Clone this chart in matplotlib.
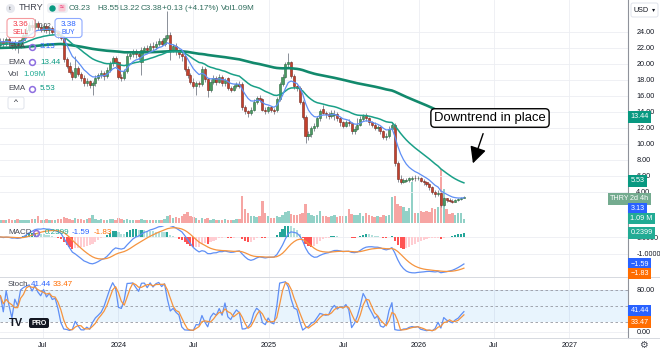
import numpy as np
import pandas as pd
import matplotlib
matplotlib.use('Agg')
import matplotlib.pyplot as plt
import matplotlib.dates as mdates
from matplotlib.patches import FancyBboxPatch

plt.rcParams['font.family'] = ['Liberation Sans', 'DejaVu Sans']

# ---------------- data (weekly THRY) ----------------
opens = [22.4,22.9,22.5,23.1,22.7,22.3,22.8,22.4,23.0,23.6,
         24.2,24.9,24.6,25.1,24.6,24.3,24.8,24.2,24.5,24.0,
         24.1,23.6,23.3,20.6,19.8,19.0,18.4,19.5,18.8,18.2,
         17.6,17.9,17.4,17.6,18.3,18.6,18.9,18.5,19.3,20.1,
         20.7,20.2,18.4,18.3,19.1,21.0,21.2,21.6,21.3,20.2,
         21.8,22.0,21.7,22.3,22.1,22.5,22.9,22.5,23.2,23.6,
         21.8,22.3,21.6,21.2,21.0,19.4,18.6,17.8,17.3,17.6,
         17.5,19.4,18.1,16.7,17.8,18.3,17.8,18.4,17.6,18.2,
         17.0,16.8,17.2,17.5,17.5,14.6,14.1,13.9,14.3,15.3,
         15.8,15.6,14.3,14.1,14.6,14.2,14.2,15.6,17.5,18.4,
         20.0,20.2,18.5,17.2,17.0,15.3,13.4,11.0,11.3,12.0,
         12.3,13.2,14.4,13.9,13.7,13.5,13.6,13.8,13.2,12.7,
         12.3,12.8,12.6,11.6,11.9,12.4,13.1,13.6,13.2,12.7,
         12.4,12.0,12.1,11.6,10.9,11.0,11.9,12.4,7.6,5.6,
         5.3,5.4,5.5,5.6,5.8,5.7,5.8,5.4,5.2,5.0,
         4.6,4.0,3.7,3.9,2.4,3.2,3.0,2.9,2.8,3.0,
         3.1,3.23]
closes = [22.9,22.5,23.1,22.7,22.3,22.8,22.4,23.0,23.6,24.2,
          24.9,24.6,25.1,24.6,24.3,24.8,24.2,24.5,24.0,24.1,
          23.6,23.3,20.6,19.8,19.0,18.4,19.5,18.8,18.2,17.6,
          17.9,17.4,17.6,18.3,18.6,18.9,18.5,19.3,20.1,20.7,
          20.2,18.4,18.3,19.1,21.0,21.2,21.6,21.3,21.0,21.8,
          22.0,21.7,22.3,22.1,22.5,22.9,22.5,23.2,23.6,21.8,
          22.2,21.6,21.2,21.0,19.4,18.6,17.8,17.3,17.6,17.5,
          19.4,18.1,16.7,17.8,18.3,17.8,18.4,17.6,18.0,17.0,
          16.8,17.2,17.5,17.3,14.6,14.1,13.9,14.3,15.3,15.8,
          15.5,14.3,14.1,14.6,14.2,14.1,15.6,17.5,18.4,20.0,
          20.3,18.5,17.2,17.0,15.3,13.4,11.0,11.3,12.0,12.3,
          13.2,14.1,13.9,13.7,13.5,13.9,13.8,13.2,12.7,12.3,
          12.8,12.6,11.6,11.9,12.4,13.1,13.5,13.2,12.7,12.4,
          12.0,12.1,11.6,10.9,11.0,11.9,12.4,7.6,5.6,5.3,
          5.5,5.5,5.7,5.8,5.7,5.8,5.4,5.2,5.0,4.6,
          4.0,3.7,3.9,2.4,3.2,3.0,2.9,2.8,3.0,3.1,
          3.25,3.38]
highs = [23.3,23.2,23.4,23.4,22.9,23.0,23.0,23.3,24.0,24.6,
         25.3,25.5,25.6,25.4,25.0,25.1,24.9,24.8,24.7,24.4,
         24.3,23.9,23.5,20.9,20.2,19.3,21.0,19.7,19.0,18.6,
         18.3,18.0,17.9,18.6,18.9,19.2,19.1,19.6,20.4,21.0,
         21.0,20.4,18.8,19.4,21.4,21.6,21.9,21.9,21.6,22.1,
         22.3,22.4,22.6,22.8,22.9,23.2,23.1,23.6,26.6,24.0,
         22.5,22.6,21.9,21.5,21.2,19.7,18.9,18.2,17.9,17.9,
         19.7,19.6,18.3,18.1,18.6,18.5,18.7,18.6,18.3,18.4,
         17.3,17.5,17.8,17.9,17.7,14.9,14.3,14.6,15.6,16.0,
         16.1,15.8,14.6,14.8,14.8,14.5,15.9,17.8,18.7,20.3,
         21.4,20.4,18.7,17.4,17.2,15.5,13.6,11.6,12.3,12.6,
         13.5,14.4,14.9,14.1,14.0,14.2,14.3,14.0,13.4,12.9,
         13.0,13.1,12.8,12.2,13.3,13.5,13.8,13.9,13.4,12.9,
         12.7,12.4,12.3,11.8,11.4,12.2,12.7,12.6,7.9,6.1,
         5.8,5.8,5.9,6.0,6.1,6.0,5.9,5.6,5.4,5.1,
         4.8,4.2,4.2,4.0,3.4,3.3,3.2,3.1,3.1,3.3,
         3.4,3.55]
lows = [22.0,22.1,22.2,22.3,21.9,21.8,21.4,22.0,22.8,23.4,
        24.0,24.3,24.4,24.2,24.0,24.0,23.9,23.8,23.7,23.5,
        23.3,23.0,20.3,19.5,18.8,18.0,18.2,18.5,17.9,17.3,
        17.2,17.0,16.1,17.3,18.0,18.2,18.0,18.3,19.0,19.8,
        19.6,18.1,17.9,18.0,18.9,20.6,20.9,20.8,20.5,18.6,
        21.5,21.4,21.5,21.8,21.9,22.2,22.2,22.3,23.0,20.5,
        21.5,21.1,20.8,20.4,19.1,18.3,17.5,17.0,16.1,17.1,
        17.3,17.8,15.9,16.5,17.5,17.4,17.6,17.3,17.3,16.8,
        16.5,16.6,17.0,17.0,14.3,13.8,13.4,13.6,14.1,15.0,
        15.2,14.1,13.8,13.9,14.0,13.7,14.0,15.4,17.2,18.2,
        19.6,18.2,16.9,16.6,15.0,13.1,10.1,10.5,10.9,11.6,
        12.0,12.9,13.7,13.3,13.1,13.2,13.0,12.9,12.3,12.0,
        12.1,12.3,11.3,11.3,11.7,12.2,12.9,12.9,12.4,12.1,
        11.7,11.6,11.3,10.6,10.5,10.8,11.7,7.3,5.3,5.0,
        5.1,5.2,5.3,5.4,5.4,5.5,5.2,4.9,4.8,4.3,
        3.8,3.4,3.5,2.1,2.2,2.8,2.7,2.6,2.7,2.9,
        3.0,3.22]
volume_m = [1.0,0.8,0.9,1.2,0.8,1.0,1.1,0.9,1.0,0.8,
            1.0,1.1,1.2,2.2,1.0,0.9,1.1,1.0,0.9,1.0,
            1.1,1.2,1.9,1.5,1.3,1.0,1.4,1.1,1.2,1.0,
            1.3,1.6,2.4,1.2,1.0,1.1,0.9,1.0,1.3,1.2,
            1.0,1.4,1.1,0.9,1.3,1.0,0.8,0.9,1.0,1.2,
            0.9,0.8,1.0,0.9,0.8,1.0,0.9,1.1,2.0,2.3,
            1.6,1.8,1.5,2.0,2.6,3.1,2.2,1.7,1.4,1.0,
            1.5,1.2,1.4,1.0,1.1,0.9,1.0,0.9,1.2,1.0,
            0.9,1.0,1.1,1.3,7.8,4.0,3.0,2.0,2.2,1.8,
            2.0,6.6,3.0,2.2,1.6,1.5,2.0,1.8,2.5,3.2,
            3.5,2.6,2.4,2.5,2.7,3.0,5.7,2.8,2.5,2.2,
            2.5,3.5,2.2,2.0,1.9,2.1,2.3,1.8,2.0,2.2,
            2.0,4.2,2.6,2.4,2.5,2.8,2.2,2.9,2.4,2.1,
            1.9,2.2,1.8,2.3,2.1,2.4,7.6,7.8,5.7,5.0,
            4.7,3.6,4.5,12.0,3.0,3.0,3.4,3.2,3.5,3.1,
            4.5,4.0,4.6,16.0,10.0,4.0,2.6,2.8,2.4,2.9,
            3.0,1.09]
last_date = '2026-04-20'
ema_seeds = {'fast': 22.8, 'mid': 22.4, 'long': 22.0}   # values at left edge
ema_spans = {'fast': 8, 'mid': 26, 'long': 130}
time_ticks = ['2023-07-01', '2024-01-01', '2024-07-01', '2025-01-01',
              '2025-07-01', '2026-01-01', '2026-07-01', '2027-01-01']
time_labels = ['Jul', '2024', 'Jul', '2025', 'Jul', '2026', 'Jul', '2027']
price_ticks = [4, 6, 8, 10, 12, 14, 16, 18, 20, 22, 24]

o = np.array(opens); c = np.array(closes); h = np.array(highs); l = np.array(lows)
v = np.array(volume_m)
n = len(c)
dates = pd.date_range(end=last_date, periods=n, freq='W-MON')
xd = mdates.date2num(dates)

def ema(vals, span, seed):
    a = 2.0 / (span + 1)
    out = []
    e = seed
    for val in vals:
        e = e + a * (val - e)
        out.append(e)
    return np.array(out)

ema_fast = ema(c, ema_spans['fast'], ema_seeds['fast'])
ema_mid = ema(c, ema_spans['mid'], ema_seeds['mid'])
ema_long = ema(c, ema_spans['long'], ema_seeds['long'])
macd = ema(c, 12, c[0]) - ema(c, 26, c[0])
signal = ema(macd, 9, 0.0)
hist = macd - signal
hh = pd.Series(h).rolling(14, min_periods=1).max().values
ll = pd.Series(l).rolling(14, min_periods=1).min().values
stoch_k = 100 * (c - ll) / (hh - ll)
stoch_d = pd.Series(stoch_k).rolling(3, min_periods=1).mean().values

# ---------------- layout helpers ----------------
W, H = 660, 353
fig = plt.figure(figsize=(6.6, 3.53), dpi=100)
fig.patch.set_facecolor('white')

def axes_px(x0, y0, x1, y1, **kw):
    return fig.add_axes([x0 / W, 1 - y1 / H, (x1 - x0) / W, (y1 - y0) / H], **kw)

X0 = mdates.date2num(pd.Timestamp('2023-03-19'))
X1 = mdates.date2num(pd.Timestamp('2027-05-24'))
tick_x = mdates.date2num(pd.to_datetime(time_ticks))
GRID = '#eceef2'
TXT = '#131722'
LBL = 5.2
BARW = 5.2

def style(ax):
    for s in ax.spines.values():
        s.set_visible(False)
    ax.set_xlim(X0, X1)
    ax.set_xticks(tick_x)
    ax.grid(True, color=GRID, lw=0.6)
    ax.set_axisbelow(True)
    ax.yaxis.tick_right()
    ax.tick_params(axis='y', length=0, pad=6, labelsize=LBL, labelcolor=TXT)
    ax.tick_params(axis='x', length=0, labelbottom=False)

# volume pane (behind price)
axv = axes_px(0, 160, 628, 223)
axv.set_zorder(1)
axv.set_xlim(X0, X1)
axv.set_ylim(0, 63 / 3.4)
axv.axis('off')
up = c >= o
vol_col = np.where(up, '#92d1c7', '#f6a5a3')
axv.bar(xd, v, width=5.9, color=vol_col, linewidth=0)

# price pane
ax = axes_px(0, 0, 628, 226)
ax.set_zorder(2)
ax.patch.set_visible(False)
style(ax)
ax.set_ylim(-0.25, 28)
ax.set_yticks(price_ticks)
ax.yaxis.set_major_formatter(matplotlib.ticker.FormatStrFormatter('%.2f'))
body_col = np.where(up, '#4a9a63', '#c4402c')
edge_col = np.where(up, '#2c6a40', '#76261b')
bot = np.minimum(o, c)
ht = np.maximum(np.abs(c - o), 0.1)
ax.vlines(xd, l, h, colors='#8a8f98', lw=0.7, zorder=3)
ax.bar(xd, ht, bottom=bot, width=BARW, color=body_col, edgecolor=edge_col, linewidth=0.4, zorder=4)
ax.plot(xd, ema_long, color='#12896c', lw=1.9, zorder=5)
ax.plot(xd, ema_mid, color='#1aa088', lw=1.1, zorder=5)
ax.plot(xd, ema_fast, color='#5f8ff5', lw=0.9, zorder=5)

# MACD pane
axm = axes_px(0, 226, 628, 277)
style(axm)
axm.set_ylim(-40 / 17, 11 / 17)
axm.set_yticks([0, -1])
axm.yaxis.set_major_formatter(matplotlib.ticker.FormatStrFormatter('%.4f'))
hcols = []
for i, hv in enumerate(hist):
    prev = hist[i - 1] if i > 0 else 0
    if hv >= 0:
        hcols.append('#26a69a' if hv > prev else '#b2dfdb')
    else:
        hcols.append('#ff5252' if hv < prev else '#ffcdd2')
axm.bar(xd, hist, width=BARW, color=hcols, linewidth=0, zorder=2)
axm.plot(xd, macd, color='#5f8ff5', lw=0.9, zorder=3)
axm.plot(xd, signal, color='#f5943f', lw=0.9, zorder=3)

# Stoch pane
axs = axes_px(0, 278, 628, 338)
style(axs)
axs.set_ylim(-6 / 0.525, 80 + 12 / 0.525)
axs.set_yticks([0, 80])
axs.yaxis.set_major_formatter(matplotlib.ticker.FormatStrFormatter('%.2f'))
axs.axhspan(20, 80, color='#2196f3', alpha=0.1, lw=0)
for lv in (20, 50, 80):
    axs.axhline(lv, color='#9598a1', lw=0.6, dashes=(3, 3))
axs.plot(xd, stoch_k, color='#5f8ff5', lw=0.9, zorder=3)
axs.plot(xd, stoch_d, color='#f5943f', lw=0.9, zorder=3)
axs.set_xticklabels(time_labels)
axs.tick_params(axis='x', labelbottom=True, labelsize=LBL, labelcolor=TXT, pad=3)

# ---------------- overlay (pixel coords) ----------------
ov = fig.add_axes([0, 0, 1, 1])
ov.set_zorder(10)
ov.patch.set_visible(False)
ov.set_xlim(0, W); ov.set_ylim(H, 0); ov.axis('off')

ov.plot([628, 628], [0, 338], color='#8f929b', lw=0.8)
for yy in (277, 338):
    ov.plot([0, 660], [yy, yy], color='#d6d9e0', lw=0.7)

# header
ov.plot(10, 8, 'o', ms=6.5, mfc='#e6e8ee', mec='none')
ov.text(10, 8.3, 't', fontsize=4.5, ha='center', va='center', color='#555')
ov.text(19, 8, 'THRY', fontsize=6.6, color='#434651', va='center')
ov.add_patch(FancyBboxPatch((47, 3), 21, 10, boxstyle='round,pad=0,rounding_size=3',
                            fc='#eef0f4', ec='none'))
ov.plot(52, 8, 'o', ms=3.6, color='#089981')
ov.add_patch(FancyBboxPatch((58.5, 4.5), 7, 7, boxstyle='round,pad=0,rounding_size=1.5',
                            fc='#f8c8d4', ec='none'))
ov.text(62, 8, '≈', fontsize=5, color='#e91e63', ha='center', va='center')
hdr_col = '#2f6d5d'
for xx, s in [(69, 'O3.23'), (97, 'H3.55'), (119, 'L3.22'), (141, 'C3.38'),
              (162, '+0.13 (+4.17%)'), (221, 'Vol1.09M')]:
    ov.text(xx, 8, s, fontsize=5.9, color=hdr_col, va='center')

# sell / buy
ov.add_patch(FancyBboxPatch((7, 18.5), 28, 19, boxstyle='round,pad=0,rounding_size=3',
                            fc=(1, 1, 1, 0.8), ec='#f59a9e', lw=0.8))
ov.text(21, 24, '3.36', fontsize=5.8, color='#f23645', ha='center', va='center')
ov.text(21, 32.5, 'SELL', fontsize=4.8, color='#f23645', ha='center', va='center')
ov.text(45, 26, '0.02', fontsize=4.8, color='#555', ha='center', va='center')
ov.add_patch(FancyBboxPatch((55, 18.5), 27, 19, boxstyle='round,pad=0,rounding_size=3',
                            fc=(1, 1, 1, 0.8), ec='#8eaaff', lw=0.8))
ov.text(68.5, 24, '3.38', fontsize=5.8, color='#2962ff', ha='center', va='center')
ov.text(68.5, 32.5, 'BUY', fontsize=4.8, color='#2962ff', ha='center', va='center')

# legends
def icon(x, y):
    ov.plot(x, y, 'o', ms=4.2, mfc='none', mec='#8e6ee0', mew=1.1)

for yy, val, col in [(47, '3.13', '#2962ff'), (62, '13.44', '#089981'), (89, '5.53', '#089981')]:
    ov.text(8, yy, 'EMA', fontsize=5.8, color='#434651', va='center')
    icon(32, yy)
    ov.text(40, yy, val, fontsize=5.8, color=col, va='center')
ov.text(8, 75, 'Vol', fontsize=5.8, color='#434651', va='center')
ov.text(23, 75, '1.09M', fontsize=5.8, color='#22ab94', va='center')
ov.add_patch(FancyBboxPatch((8, 97), 16, 12, boxstyle='round,pad=0,rounding_size=2',
                            fc='white', ec='#e0e3eb', lw=0.7))
ov.text(16, 103, '^', fontsize=6, color='#131722', ha='center', va='center')

ov.text(8, 233, 'MACD', fontsize=5.8, color='#434651', va='center')
icon(36, 233)
ov.text(45, 233, '0.2399', fontsize=5.8, color='#22ab94', va='center')
ov.text(72, 233, '-1.59', fontsize=5.8, color='#2962ff', va='center')
ov.text(94, 233, '-1.83', fontsize=5.8, color='#ff6d00', va='center')

ov.text(8, 285, 'Stoch', fontsize=5.8, color='#434651', va='center')
ov.text(31, 285, '41.44', fontsize=5.8, color='#2962ff', va='center')
ov.text(53, 285, '33.47', fontsize=5.8, color='#ff6d00', va='center')

# TV PRO logo
ov.text(9, 323, 'TV', fontsize=8, fontweight='bold', color='#131722', va='center')
ov.add_patch(FancyBboxPatch((29, 318), 20, 10, boxstyle='round,pad=0,rounding_size=2',
                            fc='#131722', ec='none'))
ov.text(39, 323.3, 'PRO', fontsize=5, fontweight='bold', color='white', ha='center', va='center')

# right-axis tags
def tag(y, s, bg, fg='white', x=630.5):
    ov.text(x, y, s, fontsize=LBL, color=fg, va='center', ha='left',
            bbox=dict(boxstyle='square,pad=0.28', fc=bg, ec='none'))

ov.add_patch(FancyBboxPatch((631, 3), 27, 14, boxstyle='round,pad=0,rounding_size=2',
                            fc='white', ec='#e0e3eb', lw=0.7))
ov.text(634, 10, 'USD', fontsize=5.2, color=TXT, va='center')
ov.text(652, 10, '▾', fontsize=4.5, color=TXT, va='center')
tag(117, '13.44', '#089981')
tag(181, '5.53', '#089981')
ov.text(610, 199, 'THRY', fontsize=LBL, color='white', va='center',
        bbox=dict(boxstyle='square,pad=0.28', fc='#74ab8f', ec='none'))
tag(199, '2d 4h', '#74ab8f')
tag(208.5, '3.13', '#2962ff')
tag(218.5, '1.09 M', '#22ab94')
tag(233, '0.2399', '#22ab94')
tag(264, '\u22121.59', '#2962ff')
tag(273.5, '\u22121.83', '#ff6d00')
tag(311, '41.44', '#2962ff')
tag(322, '33.47', '#ff6d00')
ov.text(643, 345, '⚙', fontsize=7, color='#434651', ha='center', va='center')

# annotation
ov.text(490, 118, 'Downtrend in place', fontsize=9.4, color='black', ha='center', va='center',
        bbox=dict(boxstyle='round,pad=0.25,rounding_size=0.3', fc='white', ec='black', lw=1))
ov.annotate('', xy=(472, 166), xytext=(484, 131),
            arrowprops=dict(arrowstyle='-|>,head_length=1.0,head_width=0.5', color='black', lw=1))

fig.savefig('out.png', dpi=100)
